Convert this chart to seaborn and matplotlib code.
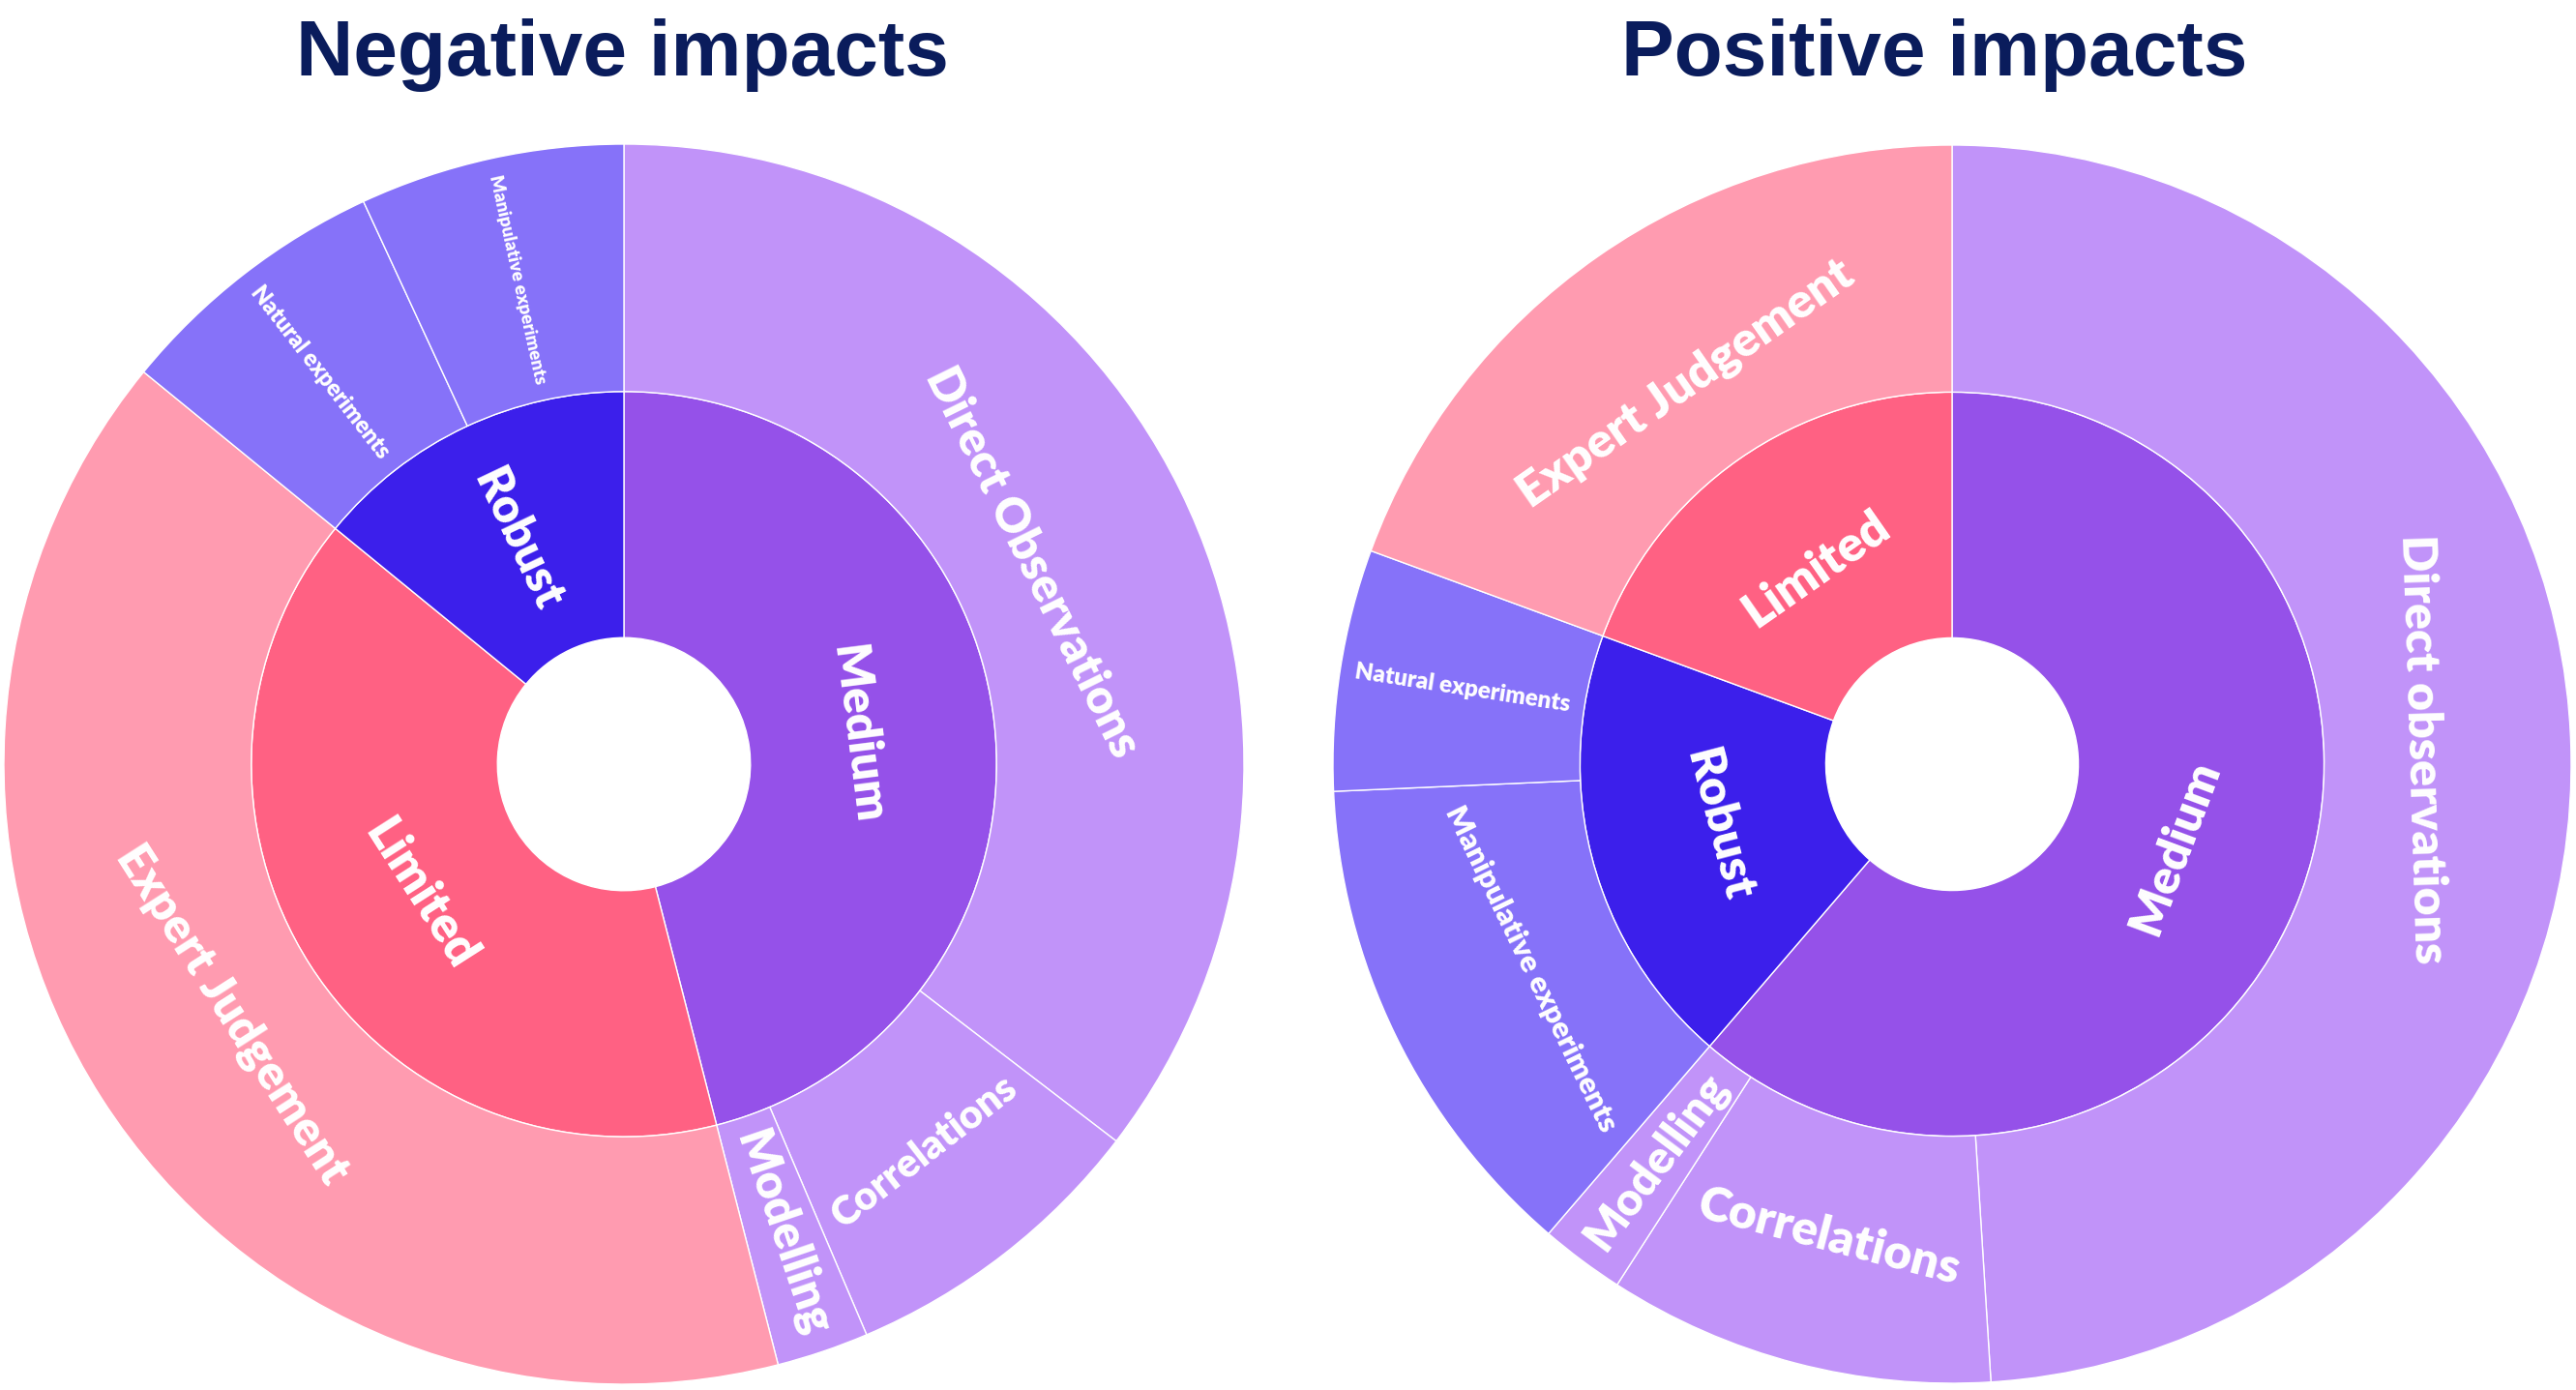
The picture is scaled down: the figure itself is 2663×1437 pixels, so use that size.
import numpy as np
import matplotlib
matplotlib.use("Agg")
import matplotlib.pyplot as plt
import seaborn as sns

############################################################################
# data: share of evidence per type (%)
neg_inner_labels = ["Medium", "Limited", "Robust"]
neg_outer_labels = ["Direct Observations", "Correlations", "Modelling",
                    "Expert Judgement", "Natural experiments", "Manipulative experiments"]
neg_outer_parent = ["Medium", "Medium", "Medium", "Limited", "Robust", "Robust"]
neg_outer_values = [35.4, 8.2, 2.4, 39.9, 7.2, 6.9]

pos_inner_labels = ["Medium", "Robust", "Limited"]
pos_outer_labels = ["Direct observations", "Correlations", "Modelling",
                    "Manipulative experiments", "Natural experiments", "Expert Judgement"]
pos_outer_parent = ["Medium", "Medium", "Medium", "Robust", "Robust", "Limited"]
pos_outer_values = [49.0, 10.1, 2.2, 13.0, 6.3, 19.4]

############################################################################
# styling
inner_colors = {"Medium": "#9551E9", "Limited": "#FF6183", "Robust": "#3C1FEB"}
outer_colors = {"Medium": "#C193F9", "Limited": "#FF9BB0", "Robust": "#8672F9"}

# orientation ('rad' / 'tan'), font size and radial position of every label
neg_styles = {"Medium": ("tan", 35.5, 0.38), "Limited": ("tan", 36.5, 0.39),
              "Robust": ("rad", 35, 0.40),
              "Direct Observations": ("tan", 35, 0.735), "Correlations": ("tan", 30, 0.79),
              "Modelling": ("rad", 35, 0.80), "Expert Judgement": ("tan", 35.5, 0.75),
              "Natural experiments": ("rad", 17, 0.80),
              "Manipulative experiments": ("rad", 13.4, 0.80)}
pos_styles = {"Medium": ("tan", 36, 0.384), "Robust": ("tan", 36, 0.39),
              "Limited": ("tan", 36.5, 0.384),
              "Direct observations": ("tan", 36, 0.76), "Correlations": ("tan", 36, 0.79),
              "Modelling": ("rad", 34, 0.80), "Manipulative experiments": ("tan", 22.5, 0.756),
              "Natural experiments": ("rad", 17.5, 0.80), "Expert Judgement": ("tan", 36, 0.75)}

R_HOLE, R_MID, R_OUT = 0.204, 0.601, 1.0
LABEL_FONT = ["Lato", "DejaVu Sans"]
TITLE_COLOR = "#0A1C5C"

sns.set_theme(style="white")
plt.rcParams["font.family"] = ["Liberation Sans", "DejaVu Sans"]


def rotation(theta, mode):
    rot = 90 - theta if mode == "rad" else -theta
    return ((rot + 90) % 180) - 90


def put_labels(ax, labels, values, styles):
    total = float(sum(values))
    start = 0.0
    for lab, v in zip(labels, values):
        theta = (start + v / 2) / total * 360
        start += v
        mode, size, r = styles[lab]
        t = np.radians(theta)
        ax.text(r * np.sin(t), r * np.cos(t), lab, rotation=rotation(theta, mode),
                rotation_mode="anchor", ha="center", va="center", color="white",
                fontsize=size, fontweight="heavy", family=LABEL_FONT)


def sunburst(ax, inner_labels, outer_labels, outer_parent, outer_values, styles):
    inner_values = [sum(v for v, p in zip(outer_values, outer_parent) if p == lab)
                    for lab in inner_labels]
    wp = dict(edgecolor="white", linewidth=1.0)
    ax.pie(inner_values, radius=R_MID, startangle=90, counterclock=False,
           colors=[inner_colors[l] for l in inner_labels],
           wedgeprops=dict(width=R_MID - R_HOLE, **wp))
    ax.pie(outer_values, radius=R_OUT, startangle=90, counterclock=False,
           colors=[outer_colors[p] for p in outer_parent],
           wedgeprops=dict(width=R_OUT - R_MID, **wp))
    put_labels(ax, inner_labels, inner_values, styles)
    put_labels(ax, outer_labels, outer_values, styles)
    ax.set_xlim(-1.01, 1.01)
    ax.set_ylim(-1.01, 1.01)
    ax.axis("off")


W, H = 2663, 1437
fig = plt.figure(figsize=(W / 100, H / 100), dpi=100)


def pie_axes(cx, cy, rad):
    s = rad * 1.01
    return fig.add_axes([(cx - s) / W, (H - cy - s) / H, 2 * s / W, 2 * s / H])


ax1 = pie_axes(645, 790, 641)
sunburst(ax1, neg_inner_labels, neg_outer_labels, neg_outer_parent, neg_outer_values, neg_styles)
ax2 = pie_axes(2018, 790, 640)
sunburst(ax2, pos_inner_labels, pos_outer_labels, pos_outer_parent, pos_outer_values, pos_styles)

fig.text(643 / W, 1 - 78 / H, "Negative impacts", ha="center", va="baseline",
         fontsize=59, fontweight="bold", color=TITLE_COLOR)
fig.text(2000 / W, 1 - 78 / H, "Positive impacts", ha="center", va="baseline",
         fontsize=59, fontweight="bold", color=TITLE_COLOR)

fig.savefig("out.png", dpi=100)
